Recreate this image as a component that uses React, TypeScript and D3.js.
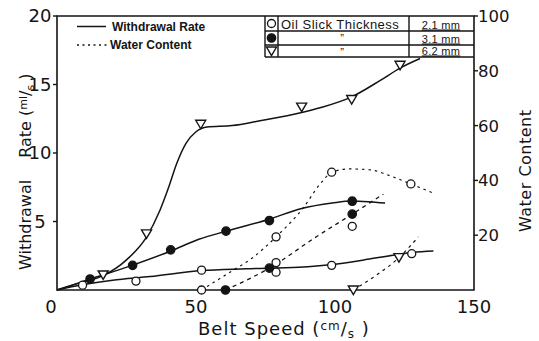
import React from "react";
import * as d3 from "d3";

// Axis ticks
const speedTicks = [0, 50, 100, 150];
const rateTicks = [5, 10, 15, 20];
const waterTicks = [20, 40, 60, 80, 100];

// Withdrawal rate (ml/s) measurements vs belt speed (cm/s)
const rate21Points: [number, number][] = [
  [9.2, 0.35], [28.4, 0.65], [52, 1.45], [78.8, 2.0], [78.8, 1.3],
  [98.8, 1.8], [106.2, 4.65], [127.6, 2.65],
];
const rate31Points: [number, number][] = [
  [11.9, 0.8], [27.2, 1.8], [40.9, 2.93], [60.8, 4.3], [76.4, 5.07], [106.2, 6.48],
];
const rate62Points: [number, number][] = [
  [16.6, 1.1], [32.2, 4.1], [51.7, 12.1], [88, 13.35], [106, 13.9], [123.4, 16.4],
];

// Hand-faired withdrawal rate curves
const rate21Curve: [number, number][] = [
  [0, 0], [9, 0.38], [20, 0.72], [33.5, 0.98], [52, 1.42], [68, 1.55], [87, 1.66],
  [99, 1.86], [110, 2.18], [122, 2.58], [128, 2.75], [135.4, 2.85],
];
const rate31Curve: [number, number][] = [
  [0, 0], [12, 0.8], [27, 1.8], [41, 2.85], [51, 3.7], [61, 4.3], [76, 5.15],
  [88, 5.95], [99, 6.35], [106, 6.5], [112, 6.45], [118, 6.35],
];
const rate62Curve: [number, number][] = [
  [0, 0], [8, 0.5], [16.6, 1.05], [25, 2.2], [32, 3.8], [37, 5.8], [40, 7.4],
  [43, 9.2], [46.4, 10.7], [50, 11.55], [54, 11.9], [63, 12.0], [73, 12.35],
  [88, 12.95], [94.6, 13.3], [106, 14.1], [116.3, 15.3], [123.4, 16.2], [130.6, 16.9],
];

// Water content (%) measurements vs belt speed
const water21Points: [number, number][] = [[52, 0], [78.8, 19.4], [98.8, 43], [127.3, 38.7]];
const water31Points: [number, number][] = [[60.6, 0], [76.4, 8], [106.2, 27.7]];
const water62Points: [number, number][] = [[106.6, 0], [123, 11.8]];

// Faired water content curves
const water21Curve: [number, number][] = [
  [52, 0], [63, 7], [70, 11.5], [78.8, 19.4], [88.6, 30], [94.5, 38.5], [99, 43],
  [105, 44.2], [113, 43.8], [120, 41.6], [127.3, 38.7], [134.8, 35.6],
];
const water31Curve: [number, number][] = [[60.6, 0], [76.4, 8], [93.4, 19.5], [106.2, 27.7], [117.4, 35]];
const water62Curve: [number, number][] = [[106.6, 0], [115, 5.5], [123, 11.8], [130, 19.4]];

// Legend table rows
const thicknessLabels = ["2.1 mm", "3.1 mm", "6.2 mm"];

const W = 539;
const H = 341;
const M = { left: 57, right: 474, top: 16, bottom: 290 };
const INK = "#141414";
const NUM_FONT = "'DejaVu Sans', sans-serif";
const TXT_FONT = "'Liberation Sans', Arial, sans-serif";

const x = d3.scaleLinear().domain([0, 150]).range([M.left, M.right]);
const yRate = d3.scaleLinear().domain([0, 20]).range([M.bottom, M.top]);
const yWater = d3.scaleLinear().domain([0, 100]).range([M.bottom, M.top]);

const lineRate = d3.line<[number, number]>().x(d => x(d[0])).y(d => yRate(d[1])).curve(d3.curveMonotoneX);
const lineWater = d3.line<[number, number]>().x(d => x(d[0])).y(d => yWater(d[1])).curve(d3.curveMonotoneX);

const TRI = "M-5,-4L5,-4L0,4.5Z";

type Kind = "open" | "filled" | "tri";

function Marker({ cx, cy, kind }: { cx: number; cy: number; kind: Kind }) {
  if (kind === "tri") {
    return <path d={TRI} transform={`translate(${cx},${cy})`} fill="#fff" stroke={INK} strokeWidth={1.4} />;
  }
  return (
    <circle cx={cx} cy={cy} r={kind === "filled" ? 4.2 : 4}
      fill={kind === "filled" ? INK : "#fff"} stroke={INK} strokeWidth={1.3} />
  );
}

export default function App() {
  const rateSets: { pts: [number, number][]; kind: Kind }[] = [
    { pts: rate21Points, kind: "open" },
    { pts: rate31Points, kind: "filled" },
    { pts: rate62Points, kind: "tri" },
  ];
  const waterSets: { pts: [number, number][]; kind: Kind }[] = [
    { pts: water21Points, kind: "open" },
    { pts: water31Points, kind: "filled" },
    { pts: water62Points, kind: "tri" },
  ];

  // legend table geometry
  const tL = 265, tC1 = 278, tC2 = 409, tR = M.right;
  const rows = [M.top, 31, 45, 57];
  const rowKinds: Kind[] = ["open", "filled", "tri"];

  return (
    <svg width={W} height={H} viewBox={`0 0 ${W} ${H}`}
      style={{ position: "fixed", left: 0, top: 0, background: "#fff" }}>
      <rect x={0} y={0} width={W} height={H} fill="#fff" />

      {/* withdrawal rate curves */}
      {[rate21Curve, rate31Curve, rate62Curve].map((c, i) => (
        <path key={`rc${i}`} d={lineRate(c) || ""} fill="none" stroke={INK} strokeWidth={1.5} />
      ))}
      {/* water content curves */}
      <path d={lineWater(water21Curve) || ""} fill="none" stroke={INK} strokeWidth={1.2} strokeDasharray="2.5,4" />
      <path d={lineWater(water31Curve) || ""} fill="none" stroke={INK} strokeWidth={1.3} strokeDasharray="4,4" />
      <path d={lineWater(water62Curve) || ""} fill="none" stroke={INK} strokeWidth={1.2} strokeDasharray="3,4" />

      {/* frame */}
      <path d={`M${M.left},${M.top}H${M.right}V${M.bottom}H${M.left}Z`} fill="none" stroke={INK} strokeWidth={1.6} />

      {/* markers */}
      {rateSets.map((s, i) =>
        s.pts.map((p, j) => <Marker key={`r${i}-${j}`} cx={x(p[0])} cy={yRate(p[1])} kind={s.kind} />)
      )}
      {waterSets.map((s, i) =>
        s.pts.map((p, j) => <Marker key={`w${i}-${j}`} cx={x(p[0])} cy={yWater(p[1])} kind={s.kind} />)
      )}

      {/* left axis */}
      {rateTicks.map(t => (
        <g key={`lt${t}`}>
          <line x1={M.left - 4} x2={M.left} y1={yRate(t)} y2={yRate(t)} stroke={INK} strokeWidth={1.4} />
          <text x={40} y={yRate(t)} dy="0.36em" textAnchor="middle" fontFamily={NUM_FONT} fontSize={18} fill={INK}>{t}</text>
        </g>
      ))}
      {/* right axis */}
      {waterTicks.map(t => (
        <g key={`rt${t}`}>
          <line x1={M.right} x2={M.right + 4} y1={yWater(t)} y2={yWater(t)} stroke={INK} strokeWidth={1.4} />
          <text x={478} y={yWater(t)} dy="0.36em" textAnchor="start" fontFamily={NUM_FONT} fontSize={16.5} fill={INK}>{t}</text>
        </g>
      ))}
      {/* bottom axis */}
      {speedTicks.map(t => (
        <text key={`bt${t}`} x={x(t) - (t === 0 ? 6 : 0)} y={313} textAnchor="middle" fontFamily={NUM_FONT} fontSize={18} fill={INK}>{t}</text>
      ))}

      {/* axis titles */}
      <text x={198} y={335} fontFamily={NUM_FONT} fontSize={18} letterSpacing={1} fill={INK}>
        Belt Speed (<tspan fontSize={12} dy={-5}>cm</tspan><tspan fontSize={18} dy={5}>/</tspan><tspan fontSize={12} dy={3}>s</tspan><tspan fontSize={18} dy={-3}> )</tspan>
      </text>
      <g transform="translate(31,270) rotate(-90)">
        <text x={0} y={0} fontFamily={NUM_FONT} fontSize={16} fill={INK}>
          Withdrawal<tspan dx={22}>Rate</tspan> (<tspan fontSize={11} dy={-4}>ml</tspan><tspan fontSize={16} dy={4}>/</tspan><tspan fontSize={11} dy={3}>s</tspan><tspan fontSize={16} dy={-3}> )</tspan>
        </text>
      </g>
      <text transform="translate(531,232) rotate(-90)" fontFamily={NUM_FONT} fontSize={16} fill={INK} letterSpacing={0.5}>
        Water  Content
      </text>

      {/* line-style legend */}
      <line x1={77} x2={106} y1={26.5} y2={26.5} stroke={INK} strokeWidth={1.5} />
      <text x={112} y={30.5} fontFamily={TXT_FONT} fontSize={12} fontWeight="bold" fill={INK}>Withdrawal Rate</text>
      <line x1={77} x2={107} y1={45} y2={45} stroke={INK} strokeWidth={1.3} strokeDasharray="2,3.5" />
      <text x={110} y={49} fontFamily={TXT_FONT} fontSize={12} fontWeight="bold" fill={INK}>Water Content</text>

      {/* thickness legend table */}
      <g>
        {rows.slice(1).map((ry, i) => (
          <line key={`hr${i}`} x1={tL} x2={tR} y1={ry} y2={ry} stroke={INK} strokeWidth={1.4} />
        ))}
        {[tL, tC1, tC2].map((vx, i) => (
          <line key={`vr${i}`} x1={vx} x2={vx} y1={M.top} y2={rows[3]} stroke={INK} strokeWidth={1.4} />
        ))}
        {rowKinds.map((k, i) => (
          <Marker key={`lm${i}`} cx={(tL + tC1) / 2} cy={(rows[i] + rows[i + 1]) / 2} kind={k} />
        ))}
        <text x={281} y={29} fontFamily={TXT_FONT} fontSize={13} letterSpacing={0.5} fill={INK}>Oil Slick  Thickness</text>
        {[1, 2].map(i => (
          <text key={`dt${i}`} x={342} y={rows[i] + 11} textAnchor="middle" fontFamily={TXT_FONT} fontSize={11} fill={INK}>{"\u201D"}</text>
        ))}
        {thicknessLabels.map((s, i) => (
          <text key={`tv${i}`} x={441} y={rows[i + 1] - 2.5} textAnchor="middle" fontFamily={TXT_FONT}
            fontSize={11} letterSpacing={0.3} textDecoration="underline" fill={INK}>{s}</text>
        ))}
      </g>
    </svg>
  );
}
